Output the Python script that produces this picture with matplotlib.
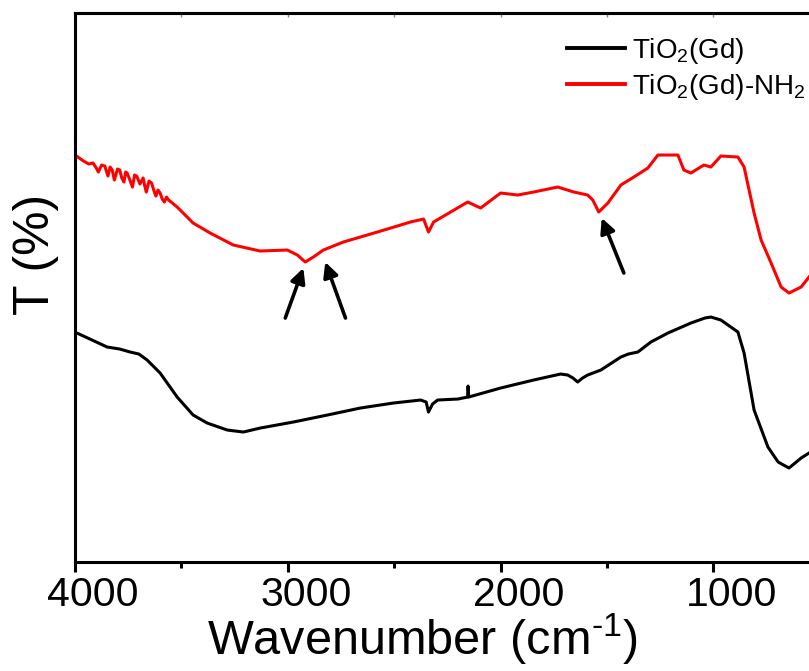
import numpy as np
import matplotlib.pyplot as plt
from matplotlib.transforms import ScaledTranslation

plt.rcParams['font.family'] = ['Liberation Sans', 'DejaVu Sans']
plt.rcParams['mathtext.fontset'] = 'custom'
plt.rcParams['mathtext.rm'] = 'Liberation Sans'
plt.rcParams['mathtext.it'] = 'Liberation Sans:italic'
plt.rcParams['mathtext.default'] = 'regular'

# FTIR spectra (wavenumber in cm-1, transmittance in a.u.)
wn_gd = [4000, 3991, 3920, 3849, 3790, 3741, 3700, 3661, 3600, 3520, 3445, 3379,
         3285, 3209, 3129, 2974, 2814, 2659, 2504, 2376, 2350, 2339, 2320, 2296,
         2200, 2155, 2153, 2150, 2100, 2000, 1845, 1718, 1685, 1660, 1638, 1615,
         1591, 1529, 1435, 1400, 1355, 1294, 1214, 1106, 1040, 1012, 965, 885,
         856, 809, 744, 696, 645, 588, 551]
t_gd = [229, 229, 222, 215, 213, 210, 208, 202, 189, 165, 147, 139,
        132, 130, 134, 140, 147, 154, 159, 162, 160, 150, 158, 162,
        163, 165, 176, 165, 168, 174, 182, 188, 187, 184, 180, 184,
        187, 192, 205, 208, 210, 220, 229, 239, 244, 245, 242, 230,
        209, 152, 115, 100, 94, 104, 109]

wn_nh2 = [4000, 3960, 3935, 3915, 3900, 3890, 3875, 3860, 3845, 3835, 3825, 3815,
          3800, 3790, 3780, 3770, 3762, 3755, 3742, 3730, 3720, 3710, 3695, 3680,
          3672, 3665, 3652, 3640, 3630, 3620, 3610, 3600, 3590, 3580, 3570, 3560,
          3520, 3445, 3365, 3256, 3130,
          3002, 2955, 2918, 2880, 2833, 2739, 2579, 2470, 2424, 2362, 2339, 2315,
          2235, 2155, 2094, 2000, 1920, 1845, 1732, 1656, 1591, 1567, 1539, 1496,
          1435, 1374, 1308, 1261, 1167, 1139, 1106, 1045, 1012, 965, 885, 856,
          809, 776, 729, 682, 645, 588, 551]
t_nh2 = [407, 401, 398, 399, 394, 390, 397, 396, 386, 395, 392, 382,
         393, 392, 384, 380, 390, 389, 382, 375, 387, 386, 378, 384,
         376, 370, 381, 379, 372, 366, 372, 369, 363, 360, 365, 362,
         355, 339, 329, 317, 311,
         312, 307, 300, 305, 312, 320, 330, 337, 340, 343, 330, 340,
         350, 360, 354, 369, 367, 370, 375, 370, 367, 362, 350, 359,
         377, 385, 394, 407, 407, 392, 389, 397, 395, 406, 405, 395,
         349, 322, 299, 275, 269, 275, 285]

# arrows: (tail wavenumber, tail T, head wavenumber, head T)
arrows = [(3012, 244, 2927, 294), (2729, 244, 2824, 300), (1421, 289, 1525, 344)]

fig = plt.figure(figsize=(8.09, 6.71), dpi=100)
ax = fig.add_axes([0.0927, 0.1624, 0.9073, 0.8182])

ax.plot(wn_gd, t_gd, color='black', lw=2.2, label=r'TiO$_\mathregular{2}$(Gd)')
ax.plot(wn_nh2, t_nh2, color='#ff0000', lw=2.2, label=r'TiO$_\mathregular{2}$(Gd)-NH$_\mathregular{2}$')

for x0, y0, x1, y1 in arrows:
    ax.annotate('', xy=(x1, y1), xytext=(x0, y0),
                arrowprops=dict(arrowstyle='-|>', color='black', lw=2.6,
                                mutation_scale=22, shrinkA=0, shrinkB=0))

ax.set_xlim(4000, 551)
ax.set_ylim(0, 549)
ax.set_xticks([4000, 3000, 2000, 1000])
ax.set_xticks([3500, 2500, 1500], minor=True)
ax.set_yticks([])
ax.tick_params(axis='x', which='major', labelsize=29.5, length=7, width=2.2, pad=3)
ax.tick_params(axis='x', which='minor', length=4, width=2.2)

# the tick labels sit a little right of their ticks in the original
shift = ScaledTranslation(0.18, 0, fig.dpi_scale_trans)
for tick in ax.xaxis.get_major_ticks():
    tick.label1.set_transform(tick.label1.get_transform() + shift)

for s in ['left', 'bottom', 'top']:
    ax.spines[s].set_linewidth(2.2)
ax.spines['right'].set_visible(False)

top = ax.secondary_xaxis('top')
top.set_xticks([3500, 3000, 2500, 2000, 1500, 1000])
top.tick_params(direction='in', length=3, width=1, labeltop=False, color='#888888')
top.spines['top'].set_linewidth(2.2)

ax.set_xlabel(r'Wavenumber (cm$^{\text{-1}}$)', fontsize=35)
ax.set_ylabel('T (%)', fontsize=36)
ax.xaxis.set_label_coords(0.473, -0.09)
ax.yaxis.set_label_coords(-0.022, 0.56)

leg = ax.legend(loc='upper left', bbox_to_anchor=(0.67, 0.958), frameon=False,
                fontsize=20, handlelength=2.1, handletextpad=0.25, labelspacing=0.2,
                borderpad=0, borderaxespad=0)
for line in leg.get_lines():
    line.set_linewidth(2.8)

fig.savefig('out.png', dpi=100)
